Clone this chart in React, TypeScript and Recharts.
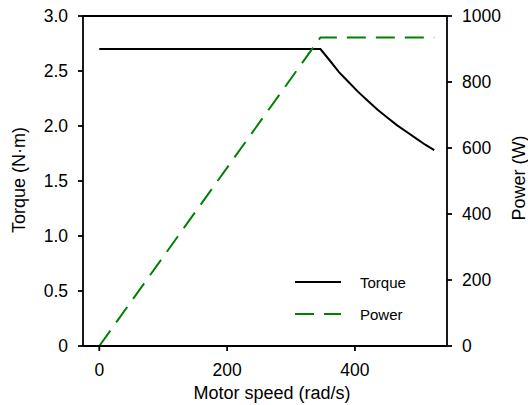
import React from 'react';
import { LineChart, Line, XAxis, YAxis, ReferenceLine, Legend } from 'recharts';

// values
const speed = [0, 346, 360, 375, 390, 405, 420, 435, 450, 465, 480, 495, 510, 524];
const torque = [2.7, 2.7, 2.6, 2.49, 2.4, 2.31, 2.23, 2.15, 2.08, 2.01, 1.95, 1.89, 1.83, 1.78];
const power = [0, 935, 935, 935, 935, 935, 935, 935, 935, 935, 935, 935, 935, 935];

const speedTicks = [0, 200, 400];
const torqueTicks = [0, 0.5, 1, 1.5, 2, 2.5, 3];
const powerTicks = [0, 200, 400, 600, 800, 1000];

const data = speed.map((s, i) => ({ speed: s, torque: torque[i], power: power[i] }));

const FONT = '"Liberation Sans", Arial, sans-serif';
const GREEN = '#008000';
const DASH = '19 10';

const axisStyle = {
  tick: { fill: '#000', fontSize: 17.5, fontFamily: FONT },
  tickLine: { stroke: '#000', strokeWidth: 1.8 },
  axisLine: { stroke: '#000', strokeWidth: 1.8 },
  tickSize: 5,
};

const vLabel = (text: string, dx: number, dy: number, fallbackX: number) => (props: any) => {
  const vb = props.viewBox || {};
  const x = vb.x !== undefined ? vb.x + dx : fallbackX;
  const y = (vb.y !== undefined ? vb.y + vb.height / 2 : 181) + dy;
  return (
    <text
      x={x}
      y={y}
      transform={`rotate(-90 ${x} ${y})`}
      textAnchor="middle"
      dominantBaseline="central"
      fill="#000"
      fontSize={18}
      fontFamily={FONT}
    >
      {text}
    </text>
  );
};

const xLabel = (props: any) => {
  const vb = props.viewBox || {};
  const x = vb.x !== undefined ? vb.x + vb.width / 2 + 7 : 272;
  const y = vb.y !== undefined ? vb.y + 47 : 393;
  return (
    <text x={x} y={y} textAnchor="middle" dominantBaseline="central" fill="#000" fontSize={18} fontFamily={FONT}>
      Motor speed (rad/s)
    </text>
  );
};

const LegendBox = () => {
  const rows = [
    { name: 'Torque', color: '#000', dash: undefined },
    { name: 'Power', color: GREEN, dash: DASH },
  ];
  return (
    <div style={{ fontFamily: FONT }}>
      {rows.map((r) => (
        <div key={r.name} style={{ display: 'flex', alignItems: 'center', height: 32 }}>
          <svg width={46} height={32} style={{ display: 'block' }}>
            <line x1={0} y1={16} x2={46} y2={16} stroke={r.color} strokeWidth={2} strokeDasharray={r.dash} />
          </svg>
          <span style={{ marginLeft: 19, fontSize: 15, color: '#000' }}>{r.name}</span>
        </div>
      ))}
    </div>
  );
};

export default function App() {
  return (
    <div style={{ position: 'absolute', left: 0, top: 0, width: 528, height: 405 }}>
      <LineChart width={528} height={405} data={data} margin={{ top: 16, right: 0, bottom: 0, left: 0 }}>
        <XAxis
          dataKey="speed"
          type="number"
          domain={[-25.5, 544]}
          ticks={speedTicks}
          allowDataOverflow
          height={59}
          tickMargin={13}
          {...axisStyle}
          label={xLabel}
        />
        <YAxis
          yAxisId="left"
          domain={[0, 3]}
          ticks={torqueTicks}
          width={83}
          tickMargin={10}
          tickFormatter={(v: number) => (v === 0 ? '0' : v.toFixed(1))}
          {...axisStyle}
          label={vLabel('Torque (N·m)', 19, -1, 19)}
        />
        <YAxis
          yAxisId="right"
          orientation="right"
          domain={[0, 1000]}
          ticks={powerTicks}
          width={81}
          tickMargin={10}
          {...axisStyle}
          label={vLabel('Power (W)', 72, -3, 519)}
        />
        <ReferenceLine yAxisId="left" y={3} stroke="#000" strokeWidth={1.8} />
        <Line
          yAxisId="left"
          dataKey="torque"
          name="Torque"
          type="linear"
          stroke="#000"
          strokeWidth={2}
          dot={false}
          isAnimationActive={false}
        />
        <Line
          yAxisId="right"
          dataKey="power"
          name="Power"
          type="linear"
          stroke={GREEN}
          strokeWidth={2}
          strokeDasharray={DASH}
          dot={false}
          isAnimationActive={false}
        />
        <Legend
          layout="horizontal"
          align="center"
          verticalAlign="middle"
          content={LegendBox}
          wrapperStyle={{ left: 295, top: 266, width: 130 }}
        />
      </LineChart>
    </div>
  );
}
